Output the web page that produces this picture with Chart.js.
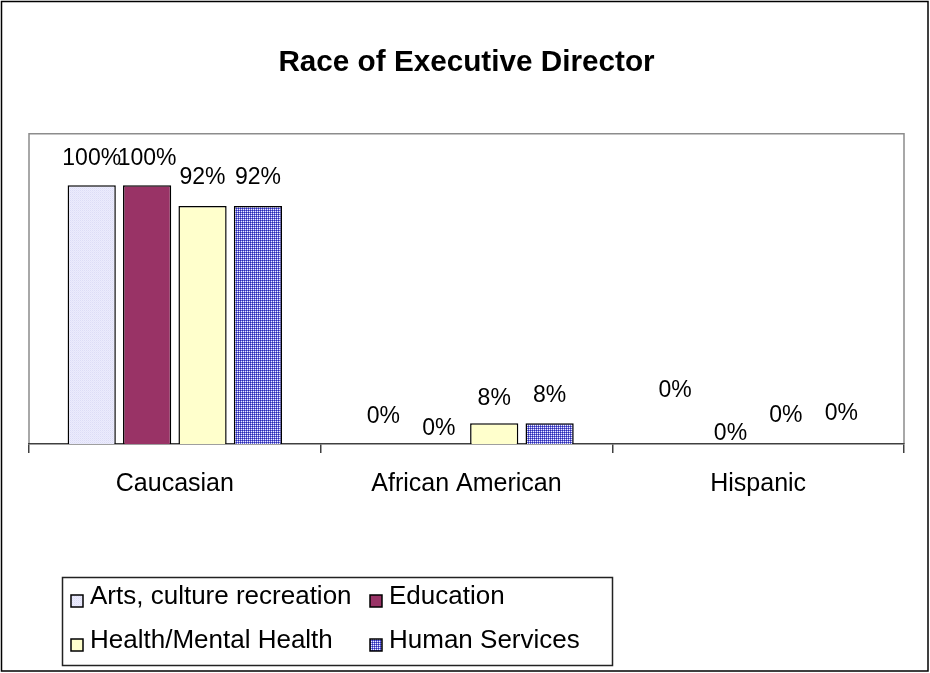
<!DOCTYPE html>
<html>
<head>
<meta charset="utf-8">
<title>Race of Executive Director</title>
<script src="https://cdn.jsdelivr.net/npm/chart.js@4.4.1/dist/chart.umd.min.js"></script>
<style>
  html, body { margin: 0; padding: 0; background: #fff; }
  #wrap { width: 930px; height: 673px; }
</style>
</head>
<body>
<div id="wrap"><canvas id="raceChart" width="930" height="673"></canvas></div>
<script>
// Data (percent of executive directors)
const categories = ['Caucasian', 'African American', 'Hispanic'];
const seriesNames = ['Arts, culture recreation', 'Education', 'Health/Mental Health', 'Human Services'];
const artsValues = [100, 0, 0];
const educationValues = [100, 0, 0];
const healthValues = [92, 8, 0];
const humanServicesValues = [92, 8, 0];
const yMax = 120;

// How far each value label floats above its bar (Excel placed them unevenly)
const labelRaise = [
    [27, 27, 28, 28],
    [27, 15, 25, 28],
    [53, 10, 28, 30]
];

const FONT = "'Liberation Sans', Arial, sans-serif";

function makePattern(cells, size) {
    const c = document.createElement('canvas');
    c.width = size; c.height = size;
    const g = c.getContext('2d');
    cells.forEach(([x, y, col]) => { g.fillStyle = col; g.fillRect(x, y, 1, 1); });
    return g.createPattern(c, 'repeat');
}

const ctx0 = document.getElementById('raceChart').getContext('2d');
const lavender = makePattern([[0, 0, '#dcdcf6'], [1, 0, '#ececfc'], [0, 1, '#ececfc'], [1, 1, '#e4e4fa']], 2);
const blueGrid = makePattern([[0, 0, '#2a2ab0'], [1, 0, '#6a6ad8'], [0, 1, '#6a6ad8'], [1, 1, '#f0f0ff']], 2);

const seriesColors = [lavender, '#993366', '#ffffcc', blueGrid];
const seriesValues = [artsValues, educationValues, healthValues, humanServicesValues];

// Frame, plot border, value labels and the boxed legend
const excelLook = {
    id: 'excelLook',
    beforeDraw(chart) {
        const c = chart.ctx;
        c.save();
        c.fillStyle = '#fff';
        c.fillRect(0, 0, chart.width, chart.height);
        c.strokeStyle = '#000';
        c.lineWidth = 1.5;
        c.strokeRect(1.5, 1.5, chart.width - 3.5, chart.height - 3.5);
        const a = chart.chartArea;
        c.strokeStyle = '#8c8c8c';
        c.lineWidth = 1.5;
        c.beginPath();
        c.moveTo(a.left, a.bottom);
        c.lineTo(a.left, a.top);
        c.lineTo(a.right, a.top);
        c.lineTo(a.right, a.bottom);
        c.stroke();
        c.restore();
    },
    afterDatasetsDraw(chart) {
        const c = chart.ctx;
        c.save();
        c.font = '23px ' + FONT;
        c.fillStyle = '#000';
        c.textAlign = 'center';
        c.textBaseline = 'middle';
        chart.data.datasets.forEach((ds, si) => {
            chart.getDatasetMeta(si).data.forEach((bar, ci) => {
                c.fillText(ds.data[ci] + '%', bar.x, bar.y - labelRaise[ci][si]);
            });
        });
        c.restore();
    },
    afterDraw(chart) {
        const c = chart.ctx;
        const box = { left: 62, top: 577, right: 612, bottom: 665 };
        const colX = [71, 370];
        const rowY = [597, 641];
        c.save();
        c.strokeStyle = '#222';
        c.lineWidth = 1.5;
        c.strokeRect(box.left + 0.5, box.top + 0.5, box.right - box.left, box.bottom - box.top);
        c.font = '26px ' + FONT;
        c.textBaseline = 'middle';
        c.textAlign = 'left';
        chart.data.datasets.forEach((ds, i) => {
            const x = colX[i % 2];
            const y = rowY[Math.floor(i / 2)];
            c.fillStyle = ds.backgroundColor;
            c.fillRect(x, y - 2, 12, 12);
            c.strokeStyle = '#000';
            c.lineWidth = 1.5;
            c.strokeRect(x, y - 2, 12, 12);
            c.fillStyle = '#000';
            c.fillText(ds.label, x + 19, y);
        });
        c.restore();
    }
};

new Chart(ctx0, {
    type: 'bar',
    data: {
        labels: categories,
        datasets: seriesNames.map((name, i) => ({
            label: name,
            data: seriesValues[i],
            backgroundColor: seriesColors[i],
            borderColor: '#000',
            borderWidth: 1.5,
            borderSkipped: 'bottom',
            categoryPercentage: 0.76,
            barPercentage: 0.87
        }))
    },
    options: {
        responsive: false,
        animation: false,
        layout: { padding: { left: 29, right: 26, top: 0, bottom: 158 } },
        plugins: {
            legend: { display: false },
            tooltip: { enabled: false },
            title: {
                display: true,
                text: 'Race of Executive Director',
                color: '#000',
                font: { family: FONT, size: 29.7, weight: 'bold' },
                padding: { top: 45, bottom: 53 }
            }
        },
        scales: {
            x: {
                grid: { display: true, drawOnChartArea: false, tickLength: 9, color: '#404040', lineWidth: 1.5, offset: true },
                border: { display: true, color: '#404040', width: 1.5 },
                ticks: { color: '#000', padding: 16, font: { family: FONT, size: 25 } }
            },
            y: {
                display: false,
                min: 0,
                max: yMax
            }
        }
    },
    plugins: [excelLook]
});
</script>
</body>
</html>
